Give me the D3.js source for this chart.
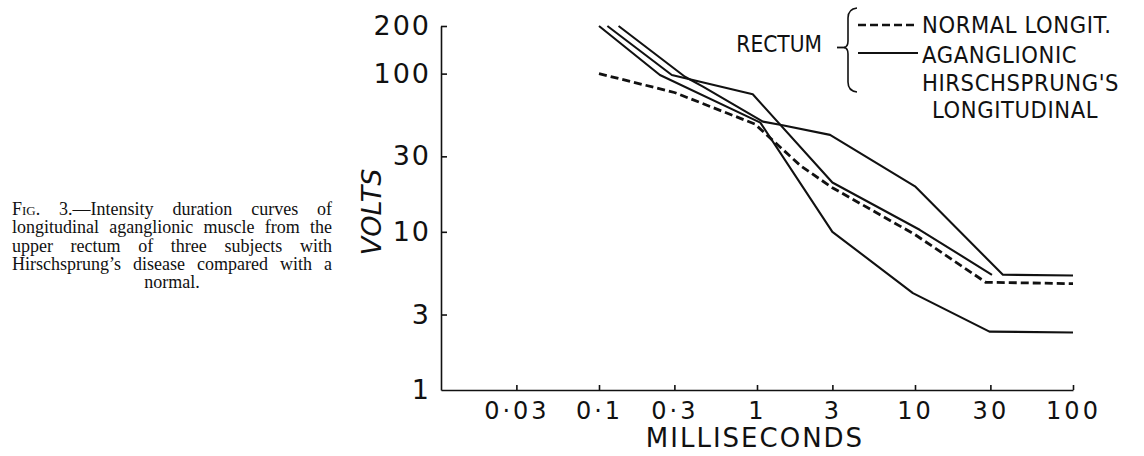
<!DOCTYPE html>
<html>
<head>
<meta charset="utf-8">
<script src="https://cdn.jsdelivr.net/npm/d3@7"></script>
<style>
  body { margin: 0; background: #fff; }
  svg { display: block; }
  .tick line, .domain { stroke: #111; stroke-width: 1.6px; }
</style>
</head>
<body>
<svg id="chart" width="1144" height="456"></svg>
<script>
// values: [milliseconds, volts]
const normalLongit = [[0.1, 100], [0.3, 76], [0.97, 48], [1.9, 26], [3, 19], [10, 9.6], [28, 4.8], [100, 4.7]]
const subjectA = [[0.1, 200], [0.243, 98], [1.05, 49], [3, 10], [9.7, 4.1], [29.6, 2.34], [100, 2.31]]
const subjectB = [[0.113, 200], [0.289, 98], [0.94, 74], [3, 20.5], [10.7, 10.3], [30.7, 5.35]]
const subjectC = [[0.133, 200], [0.35, 95.6], [0.455, 82.7], [1.09, 49.7], [1.4, 47.5], [2.9, 41], [10, 19.4], [36, 5.35], [100, 5.3]]

const xTicks = [0.03, 0.1, 0.3, 1, 3, 10, 30, 100]
const xTickLabels = ['0·03', '0·1', '0·3', '1', '3', '10', '30', '100']
const yTicks = [1, 3, 10, 30, 100, 200]
const yTickLabels = ['1', '3', '10', '30', '100', '200']

const legendGroup = 'RECTUM'
const legendNormal = ['NORMAL LONGIT.']
const legendAgang = ['AGANGLIONIC', "HIRSCHSPRUNG'S", 'LONGITUDINAL']

const caption = [
  'Intensity duration curves of',
  'longitudinal aganglionic muscle from the',
  'upper rectum of three subjects with',
  'Hirschsprung’s disease compared with a',
  'normal.'
]

const svg = d3.select('#chart')
const ink = '#111'
const labelFont = '"DejaVu Sans", sans-serif'

const x = d3.scaleLog().domain([0.01, 100]).range([441, 1073])
const y = d3.scaleLog().domain([1, 200]).range([390, 26])

// x axis, ticks pointing up into the plot
const gx = svg.append('g')
  .attr('transform', `translate(0,${y(1)})`)
  .call(d3.axisBottom(x).tickValues(xTicks)
    .tickFormat((d, i) => xTickLabels[i])
    .tickSize(-5).tickSizeOuter(0).tickPadding(12))
gx.selectAll('text')
  .attr('fill', ink)
  .style('font-family', labelFont)
  .style('font-size', '24px')
  .style('letter-spacing', '3px')

// y axis, ticks pointing right
const gy = svg.append('g')
  .attr('transform', `translate(${x(0.01)},0)`)
  .call(d3.axisLeft(y).tickValues(yTicks)
    .tickFormat((d, i) => yTickLabels[i])
    .tickSize(-6).tickSizeOuter(0).tickPadding(10))
gy.selectAll('text')
  .attr('fill', ink)
  .style('font-family', labelFont)
  .style('font-size', '27px')
  .style('letter-spacing', '2px')
gy.select('.tick line').remove() // no tick mark at 1, it's the corner

svg.append('text')
  .attr('x', 755).attr('y', 447)
  .attr('text-anchor', 'middle')
  .attr('fill', ink)
  .style('font-family', labelFont)
  .style('font-size', '26px')
  .style('letter-spacing', '2px')
  .text('MILLISECONDS')

svg.append('text')
  .attr('transform', 'translate(381,212) rotate(-90)')
  .attr('text-anchor', 'middle')
  .attr('fill', ink)
  .style('font-family', labelFont)
  .style('font-style', 'italic')
  .style('font-size', '27px')
  .text('VOLTS')

// curves
const line = d3.line().x(d => x(d[0])).y(d => y(d[1]))

svg.append('path')
  .attr('d', line(normalLongit))
  .attr('fill', 'none')
  .attr('stroke', ink)
  .attr('stroke-width', 2.8)
  .attr('stroke-dasharray', '8,4')

svg.selectAll('.agang')
  .data([subjectA, subjectB, subjectC])
  .enter().append('path')
  .attr('class', 'agang')
  .attr('d', line)
  .attr('fill', 'none')
  .attr('stroke', ink)
  .attr('stroke-width', 2.1)
  .attr('stroke-linejoin', 'round')

// legend
const legFont = '"DejaVu Sans Condensed", "DejaVu Sans", sans-serif'
svg.append('text')
  .attr('x', 822).attr('y', 52)
  .attr('text-anchor', 'end')
  .attr('fill', ink)
  .style('font-family', legFont).style('font-stretch', 'condensed')
  .style('font-size', '22.5px')
  .text(legendGroup)

svg.append('line')
  .attr('x1', 837).attr('x2', 845).attr('y1', 47.5).attr('y2', 47.5)
  .attr('stroke', ink).attr('stroke-width', 1.8)

svg.append('path')
  .attr('d', 'M857,8 Q848,9 848,18 L848,41 Q848,47 844,47.5 Q848,48 848,54 L848,82 Q848,91 857,92')
  .attr('fill', 'none')
  .attr('stroke', ink)
  .attr('stroke-width', 1.6)

svg.append('line')
  .attr('x1', 858).attr('x2', 918).attr('y1', 25).attr('y2', 25)
  .attr('stroke', ink).attr('stroke-width', 2.4)
  .attr('stroke-dasharray', '8,4')
svg.append('line')
  .attr('x1', 858).attr('x2', 918).attr('y1', 53).attr('y2', 53)
  .attr('stroke', ink).attr('stroke-width', 2)

const legText = svg.append('g')
  .attr('fill', ink)
  .style('font-family', legFont).style('font-stretch', 'condensed')
  .style('font-size', '23.5px')
  .style('letter-spacing', '0.6px')
legText.selectAll('.n').data(legendNormal).enter().append('text')
  .attr('x', 922).attr('y', 33)
  .text(d => d)
legText.selectAll('.a').data(legendAgang).enter().append('text')
  .attr('x', (d, i) => i == 2 ? 932 : 922)
  .attr('y', (d, i) => 63 + i * 27.5)
  .text(d => d)

// caption, lines justified by widening the word gaps
const cap = svg.append('g')
  .attr('fill', ink)
  .style('font-family', '"Liberation Serif", serif')
  .style('font-size', '18px')

caption.forEach((t, i) => {
  const last = i == caption.length - 1
  const el = cap.append('text')
    .attr('y', 215 + i * 18.25)
  if (last) {
    el.attr('x', 172).attr('text-anchor', 'middle').text(t)
    return
  }
  el.attr('x', 12)
  let words = t.split(' ').length - 1
  if (i == 0) {
    el.append('tspan').text('F')
    el.append('tspan').style('font-size', '13px').text('IG')
    el.append('tspan').text('. 3.—' + t)
    words += 1
  } else {
    el.text(t)
  }
  const w = el.node().getComputedTextLength()
  el.style('word-spacing', ((320 - w) / words) + 'px')
})
</script>
</body>
</html>
